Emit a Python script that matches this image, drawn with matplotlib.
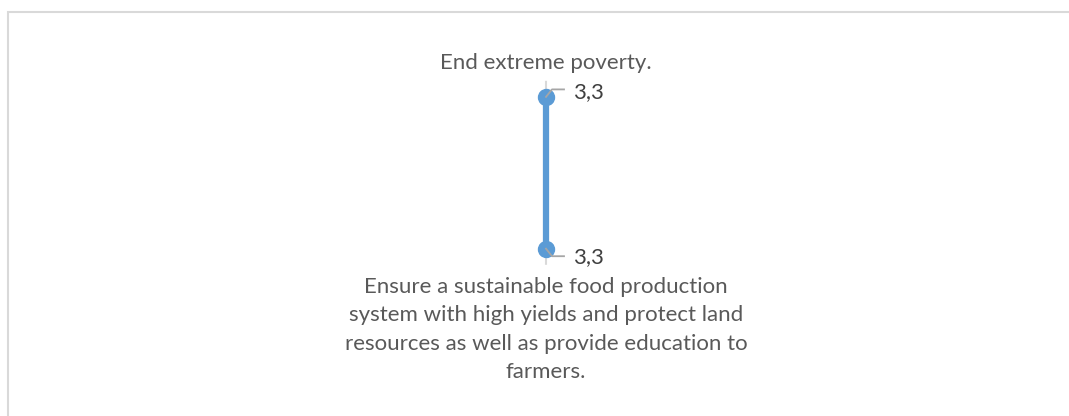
import numpy as np
import matplotlib
matplotlib.use("Agg")
import matplotlib.pyplot as plt
from matplotlib.lines import Line2D
from matplotlib.patches import Rectangle

# -----------------------
# Data
# -----------------------
categories = [
    "End extreme poverty.",
    "Ensure a sustainable food production\nsystem with high yields and protect land\nresources as well as provide education to\nfarmers.",
]
angles = [0.0, np.pi]          # top, bottom
values = [3.3, 3.3]
r_max = 4.0

W, H, DPI = 1069, 416, 100
blue = "#5B9BD5"
text_grey = "#595959"

plt.rcParams["font.family"] = ["Lato", "DejaVu Sans"]

fig = plt.figure(figsize=(W / DPI, H / DPI), dpi=DPI)

# chart border (Excel style)
fig.patches.append(Rectangle((7.5 / W, -0.1), 1.2, (H - 11.5) / H + 0.1,
                             transform=fig.transFigure, fill=False,
                             edgecolor="#D9D9D9", linewidth=1.5))

# polar axes centred on the spoke
cx, cy, rad = 546, H - 172.8, 92
ax = fig.add_axes([(cx - rad) / W, (cy - rad) / H, 2 * rad / W, 2 * rad / H],
                  projection="polar")
ax.set_theta_zero_location("N")
ax.set_theta_direction(-1)
ax.set_ylim(0, r_max)
ax.set_yticks([])
ax.set_xticks(angles)
ax.set_xticklabels([])
ax.xaxis.grid(True, color="#D9D9D9", linewidth=1.5)
ax.spines["polar"].set_visible(False)
ax.patch.set_alpha(0)

ax.plot(angles, values, color=blue, linewidth=4.5, marker="o",
        markersize=11.5, solid_capstyle="butt", zorder=5)

# category labels
ax.annotate(categories[0], xy=(angles[0], r_max), xytext=(0, 8),
            textcoords="offset pixels", ha="center", va="bottom",
            fontsize=16, color=text_grey, annotation_clip=False)
ax.annotate(categories[1], xy=(angles[1], r_max), xytext=(0, -12),
            textcoords="offset pixels", ha="center", va="top",
            multialignment="center", linespacing=1.53,
            fontsize=16, color=text_grey, annotation_clip=False)

# data labels with leader lines
fig.canvas.draw()
for th, v, dy, ty in zip(angles, values, [7.5, -7.5], [5, -8]):
    px, py = ax.transData.transform((th, v))
    fig.add_artist(Line2D([px, px + 6, px + 18], [py, py + dy, py + dy],
                          transform=None, color="#A6A6A6", linewidth=1.3,
                          zorder=4))
    ax.annotate(f"{v:.1f}".replace(".", ","), xy=(th, v),
                xytext=(27, ty), textcoords="offset pixels",
                ha="left", va="center", fontsize=16, color="#404040",
                annotation_clip=False)

fig.savefig("out.png", dpi=DPI)
